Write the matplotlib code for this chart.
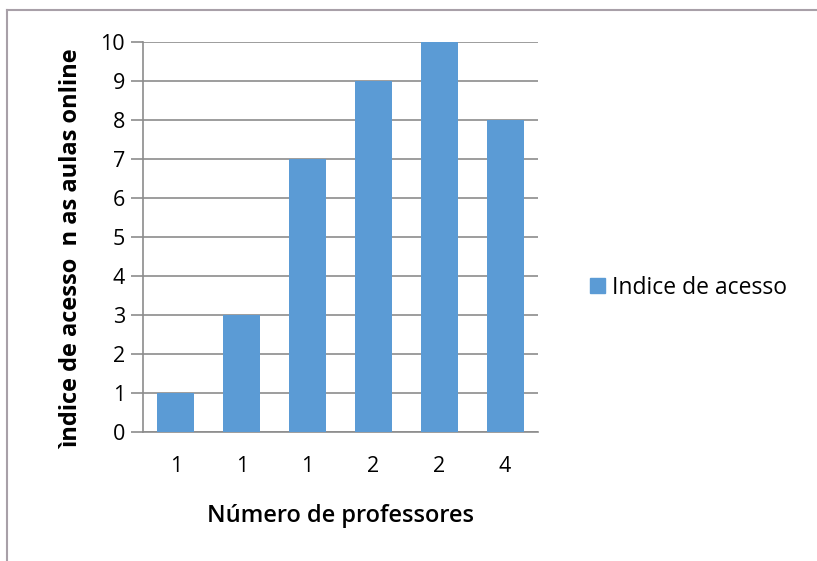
import matplotlib.pyplot as plt
from matplotlib.lines import Line2D
from matplotlib.patches import Patch

# numero de professores por grupo e indice de acesso
categorias = ['1', '1', '1', '2', '2', '4']
indice = [1, 3, 7, 9, 10, 8]

cor_barra = '#5B9BD5'
cor_grade = '#8C8C8C'

plt.rcParams['font.family'] = ['Open Sans', 'DejaVu Sans']

fig = plt.figure(figsize=(8.17, 5.61), dpi=100)
ax = fig.add_axes([0.175, 0.23, 0.4835, 0.695])

pos = range(len(indice))
ax.bar(pos, indice, width=0.56, color=cor_barra, zorder=3)

ax.set_xlim(-0.5, len(indice) - 0.5)
ax.set_ylim(0, 10)
ax.set_yticks(range(0, 11))
ax.set_xticks(list(pos))
ax.set_xticklabels(categorias)

ax.yaxis.grid(True, color=cor_grade, linewidth=1.2, zorder=0)
for lado in ['top', 'right']:
    ax.spines[lado].set_visible(False)
for lado in ['left', 'bottom']:
    ax.spines[lado].set_color(cor_grade)
    ax.spines[lado].set_linewidth(1.2)

ax.tick_params(axis='y', length=9, width=1.2, color=cor_grade, labelsize=15.5, pad=4)
ax.tick_params(axis='x', length=0, labelsize=15.5, pad=17)

ax.set_ylabel('ìndice de acesso  n as aulas online', fontsize=17,
              fontweight='bold')
ax.yaxis.set_label_coords(-0.15, 0.47)
ax.set_xlabel('Número de professores', fontsize=17, fontweight='semibold',
              labelpad=20)

leg = fig.legend(handles=[Patch(color=cor_barra, label='Indice de acesso')],
                 loc='center left', bbox_to_anchor=(0.697, 0.487), frameon=False,
                 fontsize=16.5, handlelength=0.65, handleheight=0.65,
                 handletextpad=0.3)

# moldura externa da area do grafico
fig.add_artist(Line2D([0.009, 1.0], [0.982, 0.982], color='#A8A0A8', lw=1.5))
fig.add_artist(Line2D([0.009, 0.009], [0.0, 0.982], color='#A8A0A8', lw=1.5))

fig.savefig('out.png', dpi=100)
